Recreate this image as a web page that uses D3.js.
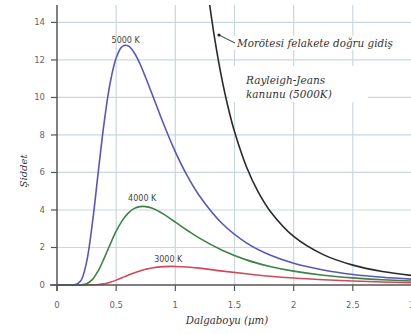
<!DOCTYPE html>
<html>
<head>
<meta charset="utf-8">
<script src="https://cdn.jsdelivr.net/npm/d3@7"></script>
<style>
  body { margin: 0; background: #fff; }
  svg { display: block; }
</style>
</head>
<body>
<div id="container"></div>
<script>
/* DATA */
const wavelengths = [0, 0.1, 0.15, 0.2, 0.25, 0.3, 0.35, 0.4, 0.45, 0.5, 0.55, 0.6, 0.65, 0.7, 0.75, 0.8, 0.9, 1.0, 1.1, 1.2, 1.4, 1.6, 1.8, 2.0, 2.25, 2.5, 2.75, 3.0];
const k5000 = [0, 0, 0.01, 0.21, 1.22, 3.35, 6.10, 8.74, 10.80, 12.10, 12.71, 12.76, 12.41, 11.81, 11.05, 10.24, 8.60, 7.10, 5.83, 4.79, 3.25, 2.25, 1.60, 1.16, 0.80, 0.56, 0.41, 0.31];
const k4000 = [0, 0, 0, 0.01, 0.07, 0.30, 0.78, 1.45, 2.18, 2.87, 3.42, 3.82, 4.07, 4.18, 4.18, 4.10, 3.78, 3.35, 2.92, 2.51, 1.84, 1.34, 0.99, 0.74, 0.52, 0.38, 0.28, 0.21];
const k3000 = [0, 0, 0, 0, 0, 0.01, 0.03, 0.07, 0.15, 0.26, 0.39, 0.52, 0.64, 0.75, 0.84, 0.91, 0.98, 0.99, 0.96, 0.90, 0.74, 0.60, 0.47, 0.37, 0.28, 0.21, 0.16, 0.12];
const rjWavelengths = [1.25, 1.3, 1.35, 1.4, 1.45, 1.5, 1.6, 1.7, 1.8, 2.0, 2.25, 2.5, 2.75, 3.0];
const rj5000 = [16.97, 14.5, 12.47, 10.78, 9.37, 8.18, 6.32, 4.96, 3.95, 2.59, 1.62, 1.06, 0.72, 0.51];
const xTicks = [0, 0.5, 1, 1.5, 2, 2.5, 3];
const yTicks = [0, 2, 4, 6, 8, 10, 12, 14];
const curveLabels = [
  { text: "5000 K", x: 0.58, y: 12.9 },
  { text: "4000 K", x: 0.72, y: 4.5 },
  { text: "3000 K", x: 0.94, y: 1.2 }
];

/* CONSTANTS AND GLOBALS */
const width = 411, height = 334;
const plotLeft = 57, plotRight = 412, plotTop = 5, plotBottom = 285;

const svg = d3.select("#container")
  .append("svg")
  .attr("width", width)
  .attr("height", height);

const x = d3.scaleLinear().domain([0, 3]).range([plotLeft, plotRight]);
const y = d3.scaleLinear().domain([0, 14.93]).range([plotBottom, plotTop]);

// grid
svg.append("g")
  .selectAll("line")
  .data(xTicks.slice(1))
  .join("line")
  .attr("x1", d => x(d)).attr("x2", d => x(d))
  .attr("y1", plotTop).attr("y2", plotBottom)
  .attr("stroke", "#c9d8de").attr("stroke-width", 1.2);

svg.append("g")
  .selectAll("line")
  .data(yTicks.slice(1))
  .join("line")
  .attr("x1", plotLeft).attr("x2", width)
  .attr("y1", d => y(d)).attr("y2", d => y(d))
  .attr("stroke", "#c9d8de").attr("stroke-width", 1.2);

// white boxes behind annotations
svg.append("rect").attr("x", 229).attr("y", 36).attr("width", 175).attr("height", 14).attr("fill", "#fff");
svg.append("rect").attr("x", 229).attr("y", 66).attr("width", 139).attr("height", 36).attr("fill", "#fff");

svg.append("clipPath").attr("id", "plot")
  .append("rect").attr("x", plotLeft).attr("y", plotTop).attr("width", width - plotLeft).attr("height", plotBottom - plotTop + 2);

const line = d3.line()
  .x(d => x(d[0]))
  .y(d => y(d[1]))
  .curve(d3.curveCatmullRom.alpha(0.5));

const series = [
  { values: k3000, color: "#d2485a" },
  { values: k4000, color: "#3f8146" },
  { values: k5000, color: "#5858b4" }
];

const curves = svg.append("g").attr("clip-path", "url(#plot)");

curves.append("path")
  .datum(rjWavelengths.map((w, i) => [w, rj5000[i]]))
  .attr("d", line)
  .attr("fill", "none")
  .attr("stroke", "#2a2a2a")
  .attr("stroke-width", 1.6);

series.forEach(s => {
  curves.append("path")
    .datum(wavelengths.map((w, i) => [w, s.values[i]]))
    .attr("d", line)
    .attr("fill", "none")
    .attr("stroke", s.color)
    .attr("stroke-width", 1.6);
});

// axes
svg.append("line")
  .attr("x1", 50).attr("x2", width)
  .attr("y1", plotBottom).attr("y2", plotBottom)
  .attr("stroke", "#555").attr("stroke-width", 1.5);
svg.append("line")
  .attr("x1", plotLeft).attr("x2", plotLeft)
  .attr("y1", plotTop).attr("y2", plotBottom + 6)
  .attr("stroke", "#555").attr("stroke-width", 1.5);

svg.append("g")
  .selectAll("line")
  .data(yTicks)
  .join("line")
  .attr("x1", plotLeft - 6).attr("x2", plotLeft)
  .attr("y1", d => y(d)).attr("y2", d => y(d))
  .attr("stroke", "#555").attr("stroke-width", 1.2);

svg.append("g")
  .selectAll("line")
  .data(xTicks)
  .join("line")
  .attr("x1", d => x(d)).attr("x2", d => x(d))
  .attr("y1", plotBottom).attr("y2", plotBottom + 6)
  .attr("stroke", "#555").attr("stroke-width", 1.2);

svg.append("g")
  .selectAll("text")
  .data(yTicks)
  .join("text")
  .attr("x", 45)
  .attr("y", d => y(d) + 3)
  .attr("text-anchor", "end")
  .style("font-family", "DejaVu Sans")
  .style("font-size", "8.5px")
  .style("fill", "#666")
  .text(d => d);

svg.append("g")
  .selectAll("text")
  .data(xTicks)
  .join("text")
  .attr("x", d => x(d))
  .attr("y", 308)
  .attr("text-anchor", "middle")
  .style("font-family", "DejaVu Sans")
  .style("font-size", "8.5px")
  .style("fill", "#666")
  .text(d => d);

// curve labels
svg.append("g")
  .selectAll("text")
  .data(curveLabels)
  .join("text")
  .attr("x", d => x(d.x))
  .attr("y", d => y(d.y))
  .attr("text-anchor", "middle")
  .style("font-family", "DejaVu Sans")
  .style("font-size", "8px")
  .style("fill", "#444")
  .text(d => d.text);

// titles
const italic = sel => sel
  .style("font-family", "DejaVu Serif")
  .style("font-style", "italic")
  .style("fill", "#333");

svg.append("text")
  .attr("x", 227).attr("y", 324)
  .attr("text-anchor", "middle")
  .style("font-size", "10.2px")
  .call(italic)
  .text("Dalgaboyu (µm)");

svg.append("text")
  .attr("transform", "translate(27,171) rotate(-90)")
  .attr("text-anchor", "middle")
  .style("font-size", "10px")
  .call(italic)
  .text("Şiddet");

// annotations
svg.append("line")
  .attr("x1", 219).attr("y1", 35)
  .attr("x2", 235).attr("y2", 43)
  .attr("stroke", "#333").attr("stroke-width", 1);
svg.append("circle")
  .attr("cx", 219).attr("cy", 35).attr("r", 1.6)
  .attr("fill", "#222");

svg.append("text")
  .attr("x", 237).attr("y", 47)
  .style("font-size", "10.4px")
  .call(italic)
  .text("Morötesi felakete doğru gidiş");

svg.append("text")
  .attr("x", 246).attr("y", 84)
  .style("font-size", "10.5px")
  .call(italic)
  .text("Rayleigh-Jeans");
svg.append("text")
  .attr("x", 246).attr("y", 98)
  .style("font-size", "10.5px")
  .call(italic)
  .text("kanunu (5000K)");
</script>
</body>
</html>
